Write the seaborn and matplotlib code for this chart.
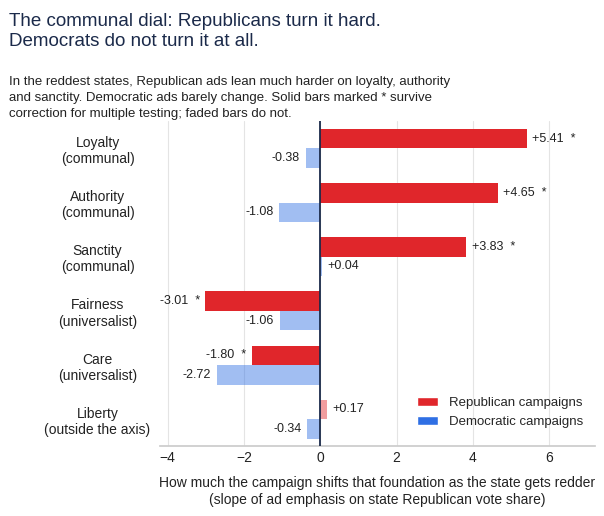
import matplotlib
matplotlib.use("Agg")
import matplotlib.pyplot as plt
import pandas as pd
import seaborn as sns

foundations = ["Loyalty\n(communal)", "Authority\n(communal)", "Sanctity\n(communal)",
               "Fairness\n(universalist)", "Care\n(universalist)", "Liberty\n(outside the axis)"]
rep_slope = [5.41, 4.65, 3.83, -3.01, -1.80, 0.17]
dem_slope = [-0.38, -1.08, 0.04, -1.06, -2.72, -0.34]
rep_sig = [True, True, True, True, True, False]
dem_sig = [False, False, False, False, False, False]

RED = "#e0262b"
BLUE = "#2f6fe4"
NAVY = "#1b2a4a"

df = pd.DataFrame({
    "foundation": foundations * 2,
    "party": ["Republican campaigns"] * 6 + ["Democratic campaigns"] * 6,
    "slope": rep_slope + dem_slope,
})

sns.set_theme(style="white")
plt.rcParams["font.family"] = ["Liberation Sans", "DejaVu Sans"]

fig = plt.figure(figsize=(6.04, 5.16), dpi=100)
ax = fig.add_axes([0.265, 0.135, 0.72, 0.63])
sns.barplot(data=df, y="foundation", x="slope", hue="party", orient="h",
            palette=[RED, BLUE], width=0.72, ax=ax, saturation=1, legend=True)

# fade non-significant bars; patches come series by series
sig = rep_sig + dem_sig
bars = [p for p in ax.patches if p.get_height() > 0][:12]
for p, s in zip(bars, sig):
    p.set_alpha(1.0 if s else 0.45)
    p.set_linewidth(0)

for p, v, s in zip(bars, rep_slope + dem_slope, sig):
    y = p.get_y() + p.get_height() / 2
    txt = f"{v:+.2f}" + ("  *" if s else "")
    if v >= 0:
        ax.text(v + 0.15, y, txt, va="center", ha="left", fontsize=9, color="#222222")
    else:
        ax.text(v - 0.15, y, txt, va="center", ha="right", fontsize=9, color="#222222")

ax.axvline(0, color=NAVY, lw=1.3, zorder=3)
ax.set_xlim(-4.2, 7.2)
ax.set_xticks([-4, -2, 0, 2, 4, 6])
ax.set_xticklabels(["\u22124", "\u22122", "0", "2", "4", "6"])
ax.grid(axis="x", color="#e4e4e4", lw=0.8)
ax.set_axisbelow(True)
for sp in ["top", "right", "left"]:
    ax.spines[sp].set_visible(False)
ax.spines["bottom"].set_color("#cccccc")
ax.tick_params(axis="both", labelsize=10, length=0, colors="#222222")
ax.set_ylabel("")
ax.set_xlabel("How much the campaign shifts that foundation as the state gets redder\n"
              "(slope of ad emphasis on state Republican vote share)", fontsize=10,
              color="#222222", labelpad=8)
for lab in ax.get_yticklabels():
    lab.set_horizontalalignment("center")
ax.tick_params(axis="y", pad=45)

leg = ax.legend(loc="lower right", frameon=False, fontsize=9.5, handlelength=1.6,
                bbox_to_anchor=(1.0, 0.02))
for h in leg.legend_handles:
    h.set_alpha(1.0)

fig.text(0.015, 0.975, "The communal dial: Republicans turn it hard.\nDemocrats do not turn it at all.",
         fontsize=13.5, color=NAVY, va="top", ha="left", linespacing=1.2)
fig.text(0.015, 0.852, "In the reddest states, Republican ads lean much harder on loyalty, authority\n"
         "and sanctity. Democratic ads barely change. Solid bars marked * survive\n"
         "correction for multiple testing; faded bars do not.",
         fontsize=9.5, color="#222222", va="top", ha="left", linespacing=1.45)

fig.savefig("out.png", dpi=100)
